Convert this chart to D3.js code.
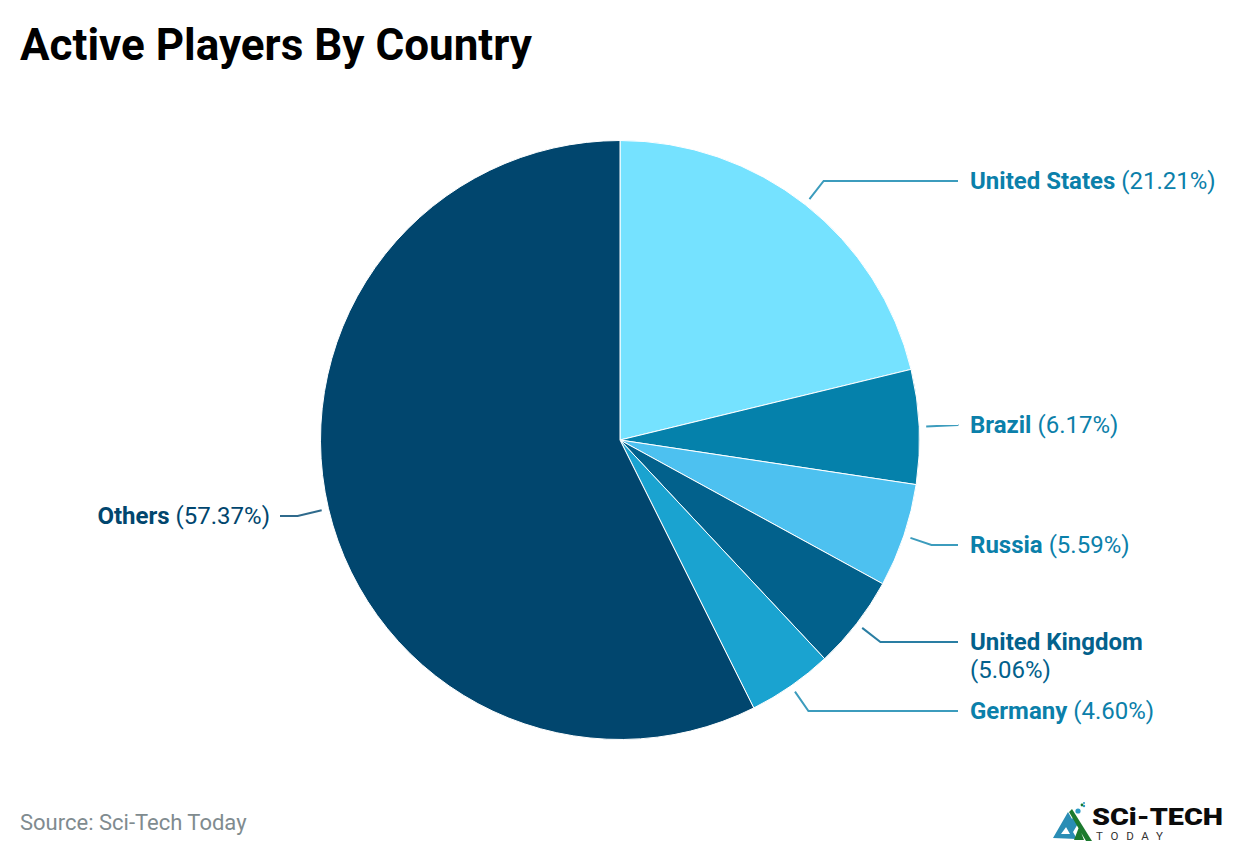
<!DOCTYPE html>
<html>
  <head>
    <meta charset="utf-8">
    <style>
      html, body {
        margin: 0;
        background: #fff;
      }

      svg {
        display: block;
        font-family: Roboto, sans-serif;
      }
    </style>
    <script src="https://d3js.org/d3.v7.min.js"></script>
  </head>
  <body>
    <script type="text/javascript">
      const width = 1240;
      const height = 856;

      const countries = ['United States', 'Brazil', 'Russia', 'United Kingdom', 'Germany', 'Others'];
      const shares = [21.21, 6.17, 5.59, 5.06, 4.60, 57.37];
      const sliceColors = ['#75e2ff', '#0581ab', '#4dc1f0', '#02618c', '#1aa3d0', '#01466e'];
      const textColors = ['#0b80aa', '#0b80aa', '#0b80aa', '#02618c', '#0b80aa', '#01466e'];
      const lineColors = ['#3c9cbd', '#3c9cbd', '#3c9cbd', '#2a7ea3', '#3c9cbd', '#2f6a8c'];

      // y of each label's line, set by hand to match the layout
      const labelY = [181, 425, 545, 642, 711, 516];

      const cx = 620;
      const cy = 440;
      const radius = 299.5;

      const svg = d3.select('body')
        .append('svg')
        .attr('width', width)
        .attr('height', height);

      svg.append('text')
        .attr('x', 20)
        .attr('y', 60)
        .attr('font-size', 44)
        .attr('font-weight', 700)
        .attr('fill', '#000')
        .text('Active Players By Country');

      const pie = d3.pie().sort(null).value((d) => d);
      const arc = d3.arc().innerRadius(0).outerRadius(radius);
      const arcs = pie(shares);

      const chart = svg.append('g')
        .attr('transform', `translate(${cx}, ${cy})`);

      chart.selectAll('path.slice')
        .data(arcs)
        .enter()
        .append('path')
        .attr('class', 'slice')
        .attr('d', arc)
        .attr('fill', (d, i) => sliceColors[i])
        .attr('stroke', '#fff')
        .attr('stroke-width', 1);

      // leader: goes out along the slice's middle until it meets the label line
      const leader = (d, i) => {
        const mid = (d.startAngle + d.endAngle) / 2;
        const sx = Math.sin(mid);
        const sy = -Math.cos(mid);
        const r0 = radius + 7;
        const x0 = r0 * sx;
        const y0 = r0 * sy;
        const y1 = labelY[i] - cy;
        const t = (y1 - y0) / sy;
        const x1 = x0 + t * sx;
        const x2 = sx > 0 ? 338 : -340;
        return [[x0, y0], [x1, y1], [x2, y1]];
      };

      chart.selectAll('path.leader')
        .data(arcs)
        .enter()
        .append('path')
        .attr('class', 'leader')
        .attr('d', (d, i) => d3.line()(leader(d, i)))
        .attr('fill', 'none')
        .attr('stroke', (d, i) => lineColors[i])
        .attr('stroke-width', 2);

      const labels = svg.selectAll('text.label')
        .data(arcs)
        .enter()
        .append('text')
        .attr('class', 'label')
        .attr('font-size', 24)
        .attr('fill', (d, i) => textColors[i])
        .attr('text-anchor', (d, i) => countries[i] === 'Others' ? 'end' : 'start')
        .attr('x', (d, i) => countries[i] === 'Others' ? 270 : 970)
        .attr('y', (d, i) => labelY[i] + 8);

      labels.append('tspan')
        .attr('font-weight', 700)
        .text((d, i) => countries[i]);

      labels.append('tspan')
        .attr('x', (d, i) => countries[i] === 'United Kingdom' ? 970 : null)
        .attr('dy', (d, i) => countries[i] === 'United Kingdom' ? 28 : null)
        .text((d, i) => (countries[i] === 'United Kingdom' ? '' : ' ') + `(${shares[i].toFixed(2)}%)`);

      svg.append('text')
        .attr('x', 20)
        .attr('y', 830)
        .attr('font-size', 22)
        .attr('fill', '#808b8f')
        .text('Source: Sci-Tech Today');

      // logo
      const logo = svg.append('g');
      logo.append('path')
        .attr('d', 'M1053 838L1068 812L1072 819L1061 834L1070 834L1066 827L1075 815L1079 822L1073 832L1077 839Z')
        .attr('fill', '#2a8db5');
      logo.append('path')
        .attr('d', 'M1069 812L1072 809L1092 841L1086 841Z M1074 840L1079 827L1084 840Z')
        .attr('fill', '#1c7a2e');
      logo.selectAll('circle')
        .data([[1078, 811, 2.6, '#2a9ac4'], [1082, 805, 1.4, '#1c7a2e'], [1084, 806, 1.2, '#2a9ac4'], [1084, 803, 1, '#2a9ac4']])
        .enter()
        .append('circle')
        .attr('cx', (d) => d[0])
        .attr('cy', (d) => d[1])
        .attr('r', (d) => d[2])
        .attr('fill', (d) => d[3]);
      logo.append('text')
        .attr('x', 1092)
        .attr('y', 825)
        .attr('font-size', 24)
        .attr('font-weight', 900)
        .attr('fill', '#0b0b0b')
        .attr('textLength', 131)
        .attr('lengthAdjust', 'spacingAndGlyphs')
        .text('SCi-TECH');
      logo.append('text')
        .attr('x', 1096)
        .attr('y', 840)
        .attr('font-size', 11.5)
        .attr('fill', '#333')
        .attr('textLength', 67)
        .text('TODAY');
    </script>
  </body>
</html>
